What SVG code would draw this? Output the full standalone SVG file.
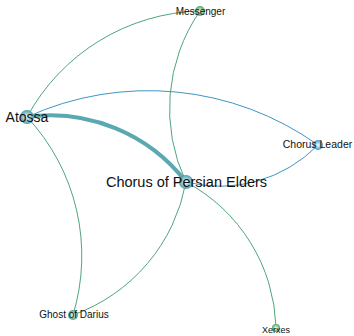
<svg xmlns="http://www.w3.org/2000/svg" width="354" height="336" viewBox="0 0 354 336">
<defs>
<radialGradient id="gTeal" cx="50%" cy="50%" r="50%">
<stop offset="0" stop-color="#ffffff"/>
<stop offset="1" stop-color="#4a9fa8"/>
</radialGradient>
<radialGradient id="gBlue" cx="50%" cy="50%" r="50%">
<stop offset="0" stop-color="#ffffff"/>
<stop offset="1" stop-color="#3f95cc"/>
</radialGradient>
<radialGradient id="gGreen" cx="50%" cy="50%" r="50%">
<stop offset="0" stop-color="#ffffff"/>
<stop offset="1" stop-color="#4aa860"/>
</radialGradient>
<radialGradient id="gSea" cx="50%" cy="50%" r="50%">
<stop offset="0" stop-color="#ffffff"/>
<stop offset="1" stop-color="#46a38a"/>
</radialGradient>
</defs>
<style>
.link{fill:none;stroke-width:1}
.green{stroke:#4fa57a}
.blue{stroke:#3f95c4}
.thick{stroke:#5aa8b0;stroke-width:4}
.lbl{font-family:"Liberation Sans",Arial,sans-serif;fill:#111;text-anchor:middle}
</style>
<rect width="354" height="336" fill="#ffffff"/>
<g id="links">
<path class="link green" d="M27,117 A202.9,202.9 0 0,1 200,11"/>
<path class="link blue" d="M27,117 A292.3,292.3 0 0,1 318,145"/>
<path class="link green" d="M27,117 A203.3,203.3 0 0,1 73,315"/>
<path class="link green" d="M186,182 A171.6,171.6 0 0,1 200,11"/>
<path class="link blue" d="M318,145 A137.1,137.1 0 0,1 186,182"/>
<path class="link green" d="M186,182 A174.5,174.5 0 0,1 73,315"/>
<path class="link green" d="M186,182 A170.7,170.7 0 0,1 276,327"/>
<path class="link thick" d="M27,117 A171.8,171.8 0 0,1 186,182"/>
</g>
<g id="node-atossa">
<circle cx="27" cy="117" r="7" fill="url(#gTeal)"/>
<text class="lbl" x="27" y="122" font-size="14">Atossa</text>
</g>
<g id="node-elders">
<circle cx="186" cy="182" r="7" fill="url(#gTeal)"/>
<text class="lbl" x="186.5" y="187" font-size="14.5">Chorus of Persian Elders</text>
</g>
<g id="node-leader">
<circle cx="318" cy="145" r="5" fill="url(#gBlue)"/>
<text class="lbl" x="317.5" y="148" font-size="10.5">Chorus Leader</text>
</g>
<g id="node-messenger">
<circle cx="200" cy="11" r="5" fill="url(#gGreen)"/>
<text class="lbl" x="200.5" y="15" font-size="10">Messenger</text>
</g>
<g id="node-ghost">
<circle cx="73" cy="315" r="5" fill="url(#gSea)"/>
<text class="lbl" x="74" y="318" font-size="10">Ghost of Darius</text>
</g>
<g id="node-xerxes">
<circle cx="276" cy="328" r="4" fill="url(#gGreen)"/>
<text class="lbl" x="276" y="333" font-size="9">Xerxes</text>
</g>
</svg>
